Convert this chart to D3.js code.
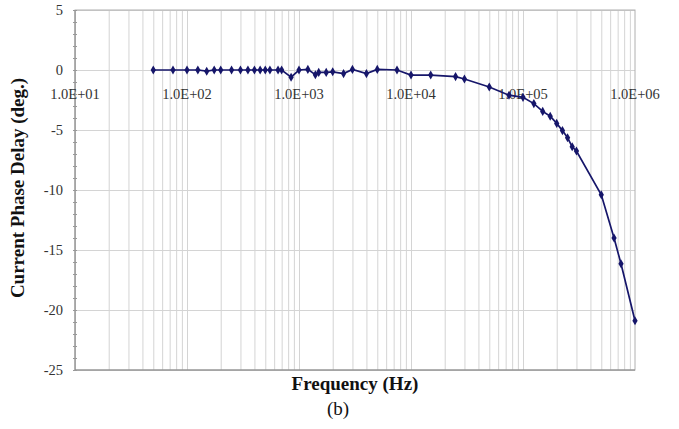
<!DOCTYPE html>
<html lang="en">
	<head>
		<meta charset="utf-8">
		<title>Current phase delay vs frequency</title>
		<script src="https://cdn.jsdelivr.net/npm/d3@7"></script>
		<style type="text/css">
			body { margin: 0; background: #fff; }
			.grid line { stroke: #d4d4d4; stroke-width: 1; }
			.grid path { display: none; }
			.tickLabel { font-size: 14.5px; fill: #333; }
			.axisTitle { font-size: 19px; font-weight: bold; fill: #111; }
			.series { fill: none; stroke: #16166a; stroke-width: 1.7; }
			.marker { fill: #16166a; }
		</style>
	</head>
	<body>
		<script>
			//Width and height
			var w = 679;
			var h = 429;
			var margin = { top: 10, right: 44, bottom: 59, left: 75 };
			var serif = "'Liberation Serif', 'DejaVu Serif', serif";

			//Data: frequency (Hz) and phase delay (deg.)
			var frequency = [50, 75, 100, 125, 150, 175, 200, 250, 300, 350, 400, 450, 500, 550, 650, 700,
				850, 1000, 1200, 1400, 1500, 1750, 2000, 2500, 3000, 4000, 5000, 7500,
				10000, 15000, 25000, 30000, 50000, 75000, 100000, 125000, 150000, 175000,
				200000, 225000, 250000, 275000, 300000, 500000, 650000, 750000, 1000000];
			var phaseDelay = [0, 0, 0, 0, -0.1, 0, 0, 0, 0, 0, 0, 0, 0, 0, 0, 0,
				-0.6, 0, 0.05, -0.4, -0.2, -0.2, -0.15, -0.3, 0.05, -0.3, 0.05, 0,
				-0.42, -0.42, -0.55, -0.75, -1.42, -2.1, -2.28, -2.8, -3.45, -3.85,
				-4.45, -5.05, -5.65, -6.4, -6.75, -10.4, -14.0, -16.15, -20.9];

			//Tick values and labels
			var xTicks = [1e1, 1e2, 1e3, 1e4, 1e5, 1e6];
			var xTickLabels = ["1.0E+01", "1.0E+02", "1.0E+03", "1.0E+04", "1.0E+05", "1.0E+06"];
			var yTicks = [5, 0, -5, -10, -15, -20, -25];

			var dataset = frequency.map(function(f, i) { return { f: f, v: phaseDelay[i] }; });

			var iw = w - margin.left - margin.right;
			var ih = h - margin.top - margin.bottom;

			var xScale = d3.scaleLog().domain([1e1, 1e6]).range([0, iw]);
			var yScale = d3.scaleLinear().domain([-25, 5]).range([ih, 0]);

			//Minor log gridlines (1..9 for each decade)
			var xGridValues = [];
			xTicks.forEach(function(t, i) {
				if (i === xTicks.length - 1) return;
				for (var k = 1; k < 10; k++) xGridValues.push(t * k);
			});

			var svg = d3.select("body")
						.append("svg")
						.attr("width", w)
						.attr("height", h)
						.attr("font-family", serif);

			var g = svg.append("g")
						.attr("transform", "translate(" + margin.left + "," + margin.top + ")");

			//Vertical gridlines
			g.append("g")
				.attr("class", "grid")
				.attr("transform", "translate(0," + ih + ")")
				.call(d3.axisBottom(xScale).tickValues(xGridValues).tickSize(-ih).tickFormat(""));

			//Horizontal gridlines
			g.append("g")
				.attr("class", "grid")
				.call(d3.axisLeft(yScale).tickValues(yTicks).tickSize(-iw).tickFormat(""));

			//Plot border
			g.append("rect")
				.attr("width", iw)
				.attr("height", ih)
				.attr("fill", "none")
				.attr("stroke", "#b0b0b0");

			//Left and bottom axis lines
			g.append("line")
				.attr("x1", 0).attr("x2", 0).attr("y1", 0).attr("y2", ih)
				.attr("stroke", "#888");
			g.append("line")
				.attr("x1", 0).attr("x2", iw).attr("y1", ih).attr("y2", ih)
				.attr("stroke", "#888");

			//Minor ticks on the y axis
			var minorY = d3.range(-25, 6, 1);
			var minorAxis = g.append("g")
				.attr("transform", "translate(2,0)")
				.call(d3.axisLeft(yScale).tickValues(minorY).tickSize(4).tickFormat(""));
			minorAxis.select(".domain").remove();
			minorAxis.selectAll("line").attr("stroke", "#999");

			//Y tick labels
			g.selectAll(".yLabel")
				.data(yTicks)
				.enter()
				.append("text")
				.attr("class", "tickLabel")
				.style("font-family", serif)
				.attr("x", -12)
				.attr("y", function(d) { return yScale(d); })
				.attr("dy", "0.35em")
				.attr("text-anchor", "end")
				.text(function(d) { return d; });

			//X tick labels sit just under the zero line
			g.selectAll(".xLabel")
				.data(xTicks)
				.enter()
				.append("text")
				.attr("class", "tickLabel")
				.style("font-family", serif)
				.attr("x", function(d) { return xScale(d); })
				.attr("y", yScale(0) + 24)
				.attr("dy", "0.35em")
				.attr("text-anchor", "middle")
				.text(function(d, i) { return xTickLabels[i]; });

			//Series line
			var line = d3.line()
						.x(function(d) { return xScale(d.f); })
						.y(function(d) { return yScale(d.v); });

			g.append("path")
				.datum(dataset)
				.attr("class", "series")
				.attr("d", line);

			//Diamond markers
			g.selectAll(".marker")
				.data(dataset)
				.enter()
				.append("path")
				.attr("class", "marker")
				.attr("d", d3.symbol().type(d3.symbolDiamond).size(24))
				.attr("transform", function(d) { return "translate(" + xScale(d.f) + "," + yScale(d.v) + ")"; });

			//Axis titles
			svg.append("text")
				.attr("class", "axisTitle")
				.style("font-family", serif)
				.attr("x", margin.left + iw / 2)
				.attr("y", 390)
				.attr("text-anchor", "middle")
				.text("Frequency (Hz)");

			svg.append("text")
				.attr("class", "axisTitle")
				.style("font-family", serif)
				.attr("transform", "translate(24," + (margin.top + ih / 2 - 2) + ") rotate(-90)")
				.attr("text-anchor", "middle")
				.text("Current Phase Delay (deg.)");

			//Panel label
			svg.append("text")
				.style("font-family", serif)
				.attr("x", margin.left + iw / 2 - 17)
				.attr("y", 415)
				.attr("text-anchor", "middle")
				.style("font-size", "19px")
				.style("fill", "#111")
				.text("(b)");
		</script>
	</body>
</html>
